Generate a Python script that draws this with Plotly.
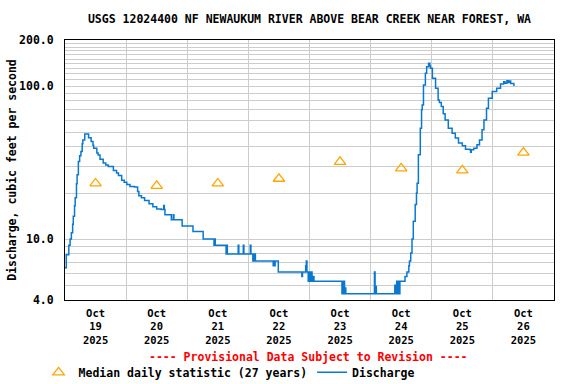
import pandas as pd
import numpy as np
import plotly.graph_objects as go

# ---------------- data ----------------
title_text = "USGS 12024400 NF NEWAUKUM RIVER ABOVE BEAR CREEK NEAR FOREST, WA"
start = pd.Timestamp("2025-10-19 00:00")

# discharge: hours since 2025-10-19 00:00 and cubic feet per second
q_hours = [
    0.0, 0.5, 1.5, 2.0, 2.5, 3.0, 3.25, 3.75, 4.0, 4.5, 4.75, 5.25, 5.75, 6.25, 6.75, 7.0, 7.75,
    9.25, 10.25, 11.0, 11.25, 12.5, 13.0, 13.75, 15.0, 16.0, 17.0, 19.0, 20.25, 21.0, 22.25,
    23.25, 24.25, 25.5, 27.25, 28.5, 29.0, 30.0, 31.25, 33.0, 34.5, 36.0, 37.75, 38.75, 39.0,
    39.25, 41.75, 42.5, 42.75, 46.0, 50.25, 54.25, 58.5, 58.75, 59.0, 63.25, 63.5, 63.75,
    68.0, 68.25, 70.0, 70.25, 72.75, 73.0, 73.75, 74.0, 74.25, 74.5, 74.75,
    81.75, 82.0, 82.25, 82.5, 83.75, 93.0, 93.25, 94.5, 94.75, 95.0, 95.5, 95.75, 96.25, 96.5,
    97.0, 97.5, 97.75, 108.75, 109.0, 109.25, 109.5, 109.75, 110.0, 110.25,
    121.5, 121.75, 122.0, 122.25, 129.5, 129.75, 130.25, 130.5, 130.75, 131.0, 131.5,
    133.5, 134.25, 135.0, 135.25, 135.75, 136.25, 136.75, 137.5, 138.0, 138.25, 138.75,
    139.5, 140.0, 140.25, 140.75, 141.5, 142.0, 142.75, 143.25, 143.5, 144.25, 145.5, 146.5,
    147.0, 147.75, 148.5, 149.25, 150.5, 152.0, 153.25, 154.5, 156.0, 157.25, 159.0, 159.25,
    159.5, 160.5, 161.75, 162.75, 163.75, 164.5, 165.5, 166.25, 167.75, 169.5, 171.0, 172.25,
    172.75, 173.5, 174.0, 174.5, 175.0, 176.25,
]
q_cfs = [
    6.5, 7.9, 9.1, 10.0, 11.0, 12.5, 14.1, 16.5, 18.6, 23.0, 26.3, 32.2, 35.0, 37.4, 42.0, 44.5, 48.7,
    46.0, 43.4, 41.0, 39.3, 36.5, 35.5, 33.3, 31.4, 30.5, 29.8, 28.1, 27.0, 26.0, 24.2,
    23.5, 22.7, 22.1, 21.9, 20.5, 19.2, 18.6, 17.9, 17.0, 16.3, 15.7, 15.6, 16.6, 15.6,
    14.4, 13.4, 14.4, 13.4, 12.2, 11.2, 10.0, 9.1, 10.0, 9.1, 8.0, 9.1, 8.0,
    9.1, 8.0, 9.1, 8.0, 9.1, 8.0, 7.2, 8.0, 7.2, 8.0, 7.2,
    6.7, 7.2, 6.7, 7.2, 6.1, 5.7, 6.1, 6.7, 7.2, 6.1, 5.3, 6.1, 5.3, 6.1,
    5.3, 5.7, 5.3, 4.4, 5.3, 4.4, 5.3, 4.4, 4.8, 4.4,
    6.1, 4.4, 4.9, 4.4, 5.0, 4.4, 5.3, 4.4, 5.3, 4.4, 5.3,
    5.7, 6.1, 6.7, 7.2, 8.1, 10.0, 13.1, 16.8, 20.0, 23.2, 35.6,
    53.1, 70.0, 75.3, 101.7, 121.3, 133.9, 140.9, 135.0, 130.7, 112.5, 96.8, 81.2,
    78.0, 73.4, 66.0, 60.1, 53.1, 49.2, 45.7, 42.4, 40.7, 38.7, 38.3, 37.0,
    38.3, 39.3, 41.3, 44.5, 51.8, 60.1, 71.7, 83.3, 92.0, 96.8, 103.3, 106.9,
    104.5, 108.5, 105.5, 108.0, 104.0, 100.2,
]

# median daily statistic (27 years), plotted at noon of each day
median_days = ["2025-10-19", "2025-10-20", "2025-10-21", "2025-10-22",
               "2025-10-23", "2025-10-24", "2025-10-25", "2025-10-26"]
median_cfs = [23.1, 22.3, 23.1, 24.8, 32.0, 29.0, 28.1, 36.7]

y_grid = [4, 5, 6, 7, 8, 9, 10, 20, 30, 40, 50, 60, 70, 80, 90, 100,
          110, 120, 130, 140, 150, 160, 170, 180, 190, 200]
y_labels = {4: "4.0", 10: "10.0", 100: "100.0", 200: "200.0"}

# ---------------- figure ----------------
FONT = "DejaVu Sans Mono"
FS = 11.5

q_time = start + pd.to_timedelta(q_hours, unit="h")
med_time = pd.to_datetime(median_days) + pd.Timedelta(hours=12)

fig = go.Figure()
fig.add_trace(go.Scatter(
    x=med_time, y=median_cfs, mode="markers",
    name="Median daily statistic (27 years)",
    marker=dict(symbol="triangle-up-open", size=10, color="#FFA500",
                line=dict(width=1.3, color="#FFA500")),
))
fig.add_trace(go.Scatter(
    x=q_time, y=q_cfs, mode="lines", name="Discharge",
    line=dict(color="#0b78d0", width=1.5, shape="hv"),
))

fig.update_layout(
    width=576, height=384,
    margin=dict(l=65, r=22, t=40, b=84, autoexpand=False),
    paper_bgcolor="white", plot_bgcolor="white",
    font=dict(family=FONT, size=FS, color="black", weight="bold"),
    title=dict(text=title_text, x=0.5, xref="paper", xanchor="center",
               y=1 - 19 / 384, yref="container", yanchor="middle",
               font=dict(family=FONT, size=FS, color="black", weight="bold")),
    showlegend=True,
    legend=dict(orientation="h", x=-0.054, xanchor="left", y=-0.278, yanchor="middle",
                bgcolor="rgba(0,0,0,0)", font=dict(family=FONT, size=FS, weight="bold"),
                itemwidth=30, traceorder="normal"),
    xaxis=dict(
        type="date", automargin=False,
        range=[start, start + pd.Timedelta(days=8)],
        dtick=86400000, tick0=start, tickformat="%b<br>%d<br>%Y",
        ticklabelmode="period", ticks="", ticklabelstandoff=3,
        showgrid=True, gridcolor="#cccccc", gridwidth=1,
        showline=True, linecolor="black", linewidth=1, mirror=True,
        zeroline=False,
        tickfont=dict(family=FONT, size=10.5, weight="bold"),
    ),
    yaxis=dict(
        type="log", automargin=False,
        range=[np.log10(4), np.log10(200)],
        tickmode="array", tickvals=y_grid,
        ticktext=[y_labels.get(v, "") for v in y_grid],
        ticks="", ticklabelstandoff=8,
        showgrid=True, gridcolor="#cccccc", gridwidth=1,
        showline=True, linecolor="black", linewidth=1, mirror=True,
        zeroline=False,
        title=dict(text="Discharge, cubic feet per second", standoff=0,
                   font=dict(family=FONT, size=FS, weight="bold")),
        tickfont=dict(family=FONT, size=FS, weight="bold"),
    ),
    annotations=[dict(
        text="---- Provisional Data Subject to Revision ----",
        xref="paper", yref="paper", x=0.497, y=-0.221,
        xanchor="center", yanchor="middle", showarrow=False,
        font=dict(family=FONT, size=FS, color="red", weight="bold"),
    )],
)

fig.write_html(
    "out.html",
    config={"displayModeBar": False},
    post_script="document.body.style.margin='0px';document.body.style.overflow='hidden';",
)
